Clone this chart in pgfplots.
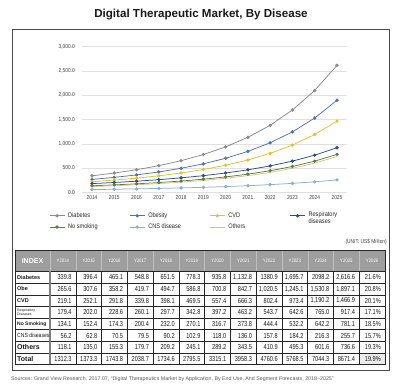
\documentclass[border=0pt]{standalone}
\usepackage{pgfplots}
\pgfplotsset{compat=1.18}
\usepackage{fontspec}
\setmainfont{Liberation Sans}
\newfontfamily\narrow[FakeStretch=0.85]{Liberation Sans}
\newfontfamily\tnarrow[FakeStretch=0.78]{Liberation Sans}
\definecolor{cDia}{HTML}{8A8A8A}
\definecolor{cObe}{HTML}{4F74A8}
\definecolor{cCVD}{HTML}{E3C12A}
\definecolor{cRes}{HTML}{2C4B8A}
\definecolor{cNos}{HTML}{5E7D3A}
\definecolor{cCNS}{HTML}{8AAED0}
\definecolor{cOth}{HTML}{E0C08A}
\newcommand\tabfont{\tnarrow\fontsize{7.2}{8}\selectfont}
\newcommand\trow[3]{%
  \pgfmathsetmacro\yc{117.5-(#1-0.5)*11.65}
  \node[anchor=west, inner sep=0pt, text=black!90] at (17,\yc) {#2};
  \foreach \v [count=\k] in {#3} \node[anchor=east, inner sep=0pt, font=\tabfont, text=black!90] at ({50+\k*25.77-4},\yc) {\v};
}
\begin{document}
\begin{tikzpicture}[x=1pt,y=1pt]
\path[use as bounding box] (0,0) rectangle (400,389);
\node[font=\bfseries\fontsize{11.6}{13}\selectfont, text=black!90] at (201,374) {Digital Therapeutic Market, By Disease};
\draw[black!70, line width=0.9pt] (12,360) rectangle (389,19);
\begin{axis}[
  at={(82pt,196.7pt)}, anchor=south west, scale only axis,
  width=265pt, height=145.6pt,
  xmin=2013.55, xmax=2025.45, ymin=0, ymax=3000,
  xtick={2014,...,2025}, ytick={0,500,...,3000},
  axis line style={draw=none}, major tick length=0pt,
  ymajorgrids, grid style={black!12, line width=0.5pt},
  tick label style={font=\narrow\fontsize{5.7}{6}\selectfont, text=black!75, inner sep=0pt},
  /pgf/number format/assume math mode=true,
  yticklabel style={/pgf/number format/.cd, fixed, fixed zerofill, precision=1, 1000 sep={,}},
  xticklabel style={/pgf/number format/1000 sep={}},
  yticklabel shift=7pt, xticklabel shift=3pt,
  every axis plot/.append style={line width=0.75pt, mark=*, mark size=1.3pt},
  legend columns=4,
  legend style={at={(-0.136,-0.108)}, anchor=north west, draw=none, fill=none,
    font=\narrow\fontsize{6.6}{7}\selectfont, text=black!85,
    nodes={inner sep=1pt}, column sep=2.2pt, row sep=1.5pt},
  legend image code/.code={\draw[mark repeat=2, mark phase=2] plot coordinates {(0pt,0pt) (7.5pt,0pt) (15pt,0pt)};},
]
\addplot[color=cDia] coordinates {(2014,339.8)(2015,396.4)(2016,465.1)(2017,548.8)(2018,651.5)(2019,778.3)(2020,935.8)(2021,1132.8)(2022,1380.9)(2023,1695.7)(2024,2098.2)(2025,2616.6)};
\addlegendentry{\makebox[58pt][l]{Diabetes}}
\addplot[color=cObe] coordinates {(2014,265.6)(2015,307.6)(2016,358.2)(2017,419.7)(2018,494.7)(2019,586.8)(2020,700.8)(2021,842.7)(2022,1020.5)(2023,1245.1)(2024,1530.8)(2025,1897.1)};
\addlegendentry{\makebox[58pt][l]{Obesity}}
\addplot[color=cCVD] coordinates {(2014,219.1)(2015,252.1)(2016,291.8)(2017,339.8)(2018,398.1)(2019,469.5)(2020,557.4)(2021,666.3)(2022,802.4)(2023,973.4)(2024,1190.2)(2025,1466.9)};
\addlegendentry{\makebox[58pt][l]{CVD}}
\addplot[color=cRes] coordinates {(2014,179.4)(2015,202.0)(2016,228.6)(2017,260.1)(2018,297.7)(2019,342.8)(2020,397.2)(2021,463.2)(2022,543.7)(2023,642.6)(2024,765.0)(2025,917.4)};
\addlegendentry{\parbox[c]{58pt}{\fontsize{6.6}{7}\selectfont Respiratory\\diseases}}
\addplot[color=cNos] coordinates {(2014,134.1)(2015,152.4)(2016,174.3)(2017,200.4)(2018,232.0)(2019,270.1)(2020,316.7)(2021,373.8)(2022,444.4)(2023,532.2)(2024,642.2)(2025,781.1)};
\addlegendentry{\makebox[58pt][l]{No smoking}}
\addplot[color=cCNS] coordinates {(2014,56.2)(2015,62.8)(2016,70.5)(2017,79.5)(2018,90.2)(2019,102.9)(2020,118.0)(2021,136.0)(2022,157.8)(2023,184.2)(2024,216.3)(2025,255.7)};
\addlegendentry{\makebox[58pt][l]{CNS disease}}
\addplot[color=cOth, no markers] coordinates {(2014,118.1)(2015,135.0)(2016,155.3)(2017,179.7)(2018,209.2)(2019,245.1)(2020,289.2)(2021,343.5)(2022,410.9)(2023,495.3)(2024,601.6)(2025,736.6)};
\addlegendentry{\makebox[58pt][l]{Others}}
\end{axis}
\node[anchor=east, inner sep=0pt, font=\narrow\fontsize{5.7}{6}\selectfont, text=black!75] at (387,147) {(UNIT: US\$ Million)};
% table
\fill[black!38] (15,139) rectangle (385,117.5);
\fill[black!8] (358.99,35.95) rectangle (385,24.3);
\foreach \k in {1,...,13} \draw[white!75!black, line width=0.4pt] ({50+\k*25.77},139) -- ({50+\k*25.77},117.5);
\draw[white!75!black, line width=0.4pt] (50,139) -- (50,117.5);
\node[text=white, font=\bfseries\fontsize{7}{8}\selectfont] at (32.5,128.25) {INDEX};
\foreach \yr [count=\k] in {2014,...,2026} \node[text=white, font=\narrow\fontsize{5}{6}\selectfont] at ({50+(\k-0.5)*25.77},128.25) {Y\yr};
\foreach \i in {1,...,8} \draw[black!85, line width=0.5pt] (15,{117.5-\i*11.65}) -- (385,{117.5-\i*11.65});
\draw[black!85, line width=0.5pt] (15,117.5) -- (385,117.5);
\draw[black!85, line width=1pt] (15,{117.5-7*11.65}) -- (385,{117.5-7*11.65});
\foreach \k in {1,...,12} \draw[black!85, line width=0.5pt] ({50+\k*25.77},117.5) -- ({50+\k*25.77},24.3);
\draw[black!50, line width=1.2pt] (50,117.5) -- (50,24.3);
\draw[black!85, line width=0.8pt] (15,139) rectangle (385,24.3);
\trow{1}{\bfseries\fontsize{5.5}{6}\selectfont Diabetes}{339.8,396.4,465.1,548.8,651.5,778.3,935.8,{1,132.8},1380.9,{1,695.7},2098.2,{2,616.6},21.6\%}
\trow{2}{\bfseries\fontsize{5.5}{6}\selectfont Obe}{265.6,307.6,358.2,419.7,494.7,586.8,700.8,842.7,{1,020.5},{1,245.1},{1,530.8},{1,897.1},20.8\%}
\trow{3}{\bfseries\fontsize{5.5}{6}\selectfont CVD}{219.1,252.1,291.8,339.8,398.1,469.5,557.4,666.3,802.4,973.4,{1,190.2},{1,466.9},20.1\%}
\trow{4}{\parbox[c]{30pt}{\fontsize{3.5}{3.8}\selectfont Respiratory\\Diseases}}{179.4,202.0,228.6,260.1,297.7,342.8,397.2,463.2,543.7,642.6,765.0,917.4,17.1\%}
\trow{5}{\bfseries\fontsize{5}{6}\selectfont No Smoking}{134.1,152.4,174.3,200.4,232.0,270.1,316.7,373.8,444.4,532.2,642.2,781.1,18.5\%}
\trow{6}{\narrow\fontsize{6}{7}\selectfont CNS diseases}{56.2,62.8,70.5,79.5,90.2,102.9,118.0,136.0,157.8,184.2,216.3,255.7,15.7\%}
\trow{7}{\bfseries\fontsize{7}{8}\selectfont Others}{118.1,{135,0},155.3,179.7,209.2,245.1,289.2,343.5,410.9,495.3,601.6,736.6,19.3\%}
\trow{8}{\bfseries\fontsize{7}{8}\selectfont Total}{1312.3,1373.3,1743.8,2038.7,1734.6,2795.5,3315.1,3958.3,4760.6,5768.5,7044.3,8671.4,19.9\%}
\node[anchor=west, inner sep=0pt, font=\fontsize{5.3}{6}\selectfont, text=black!65] at (11,10) {Sources: Grand View Research, 2017.07, ``Digital Therapeutics Market by Application, By End Use, And Segment Forecasts, 2018\textasciitilde2025''};
\end{tikzpicture}
\end{document}
